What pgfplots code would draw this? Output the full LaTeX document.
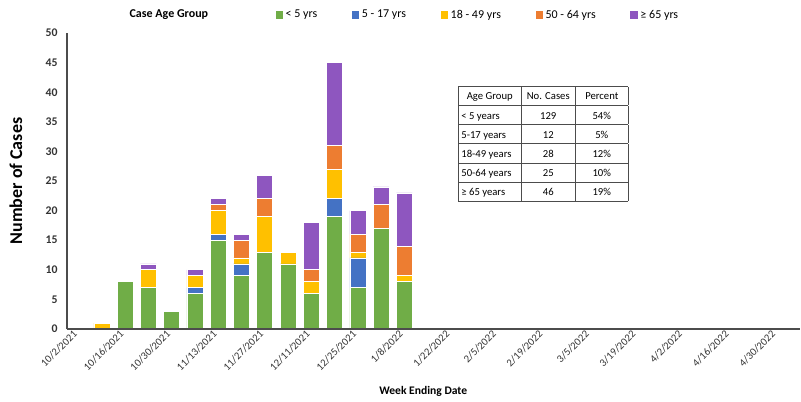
\documentclass[border=0pt]{standalone}
\usepackage{pgfplots}
\pgfplotsset{compat=1.18}
\usepackage{fontspec}
\setmainfont{Carlito}
\newfontfamily\dejavu{DejaVu Sans}
\usepackage{array}
\usepackage{colortbl}
\definecolor{cgreen}{HTML}{70AD47}
\definecolor{cblue}{HTML}{4472C4}
\definecolor{cyellow}{HTML}{FFC000}
\definecolor{corange}{HTML}{ED7D31}
\definecolor{cpurple}{HTML}{8E56BF}
\newcommand\gesym{\iffontchar\font"2265 \symbol{"2265}\else{\dejavu\symbol{"2265}}\fi}
\begin{document}
\begin{tikzpicture}
\useasboundingbox (0,0) rectangle (600.75pt,300.75pt);
\begin{axis}[
  at={(50.25pt,54pt)}, anchor=south west,
  scale only axis, width=549.75pt, height=222pt,
  ybar stacked, bar width=0.69,
  xmin=-0.5, xmax=31, ymin=0, ymax=50,
  clip=false, axis on top,
  axis x line*=bottom, axis y line*=left,
  axis line style={black!70, line width=0.8pt, -},
  ytick={0,5,...,50}, xtick={0,2,...,30},
  xticklabels={10/2/2021,10/16/2021,10/30/2021,11/13/2021,11/27/2021,12/11/2021,12/25/2021,1/8/2022,1/22/2022,2/5/2022,2/19/2022,3/5/2022,3/19/2022,4/2/2022,4/16/2022,4/30/2022},
  major tick length=0pt,
  /pgf/number format/assume math mode=true,
  x tick label style={rotate=45, anchor=east, font=\fontsize{8}{9.6}\selectfont, text=black!80},
  y tick label style={font=\bfseries\fontsize{8.8}{10}\selectfont, text=black!80, xshift=-3.5pt},
  xlabel={Week Ending Date},
  xlabel style={at={(axis description cs:0.486,0)}, anchor=center, yshift=-47pt, font=\bfseries\fontsize{8.7}{10}\selectfont},
  ylabel={Number of Cases},
  ylabel style={at={(axis description cs:-0.0696,0.5)}, anchor=center, rotate=0, font=\bfseries\fontsize{13.5}{16}\selectfont},
  every axis plot/.append style={draw=white, line width=0.5pt},
  legend style={at={(0.561,1.061)}, anchor=center, legend columns=5, draw=none, fill=none,
    font=\fontsize{9}{11}\selectfont, inner sep=0pt,
    /tikz/every even column/.append style={column sep=24pt}},
  legend cell align=left,
  legend image code/.code={\fill[#1, draw=none] (0pt,-2.7pt) rectangle (5.5pt,2.8pt);},
]
\addplot[fill=cgreen] coordinates {(0,0) (1,0) (2,8) (3,7) (4,3) (5,6) (6,15) (7,9) (8,13) (9,11) (10,6) (11,19) (12,7) (13,17) (14,8)};
\addplot[fill=cblue] coordinates {(0,0) (1,0) (2,0) (3,0) (4,0) (5,1) (6,1) (7,2) (8,0) (9,0) (10,0) (11,3) (12,5) (13,0) (14,0)};
\addplot[fill=cyellow] coordinates {(0,0) (1,1) (2,0) (3,3) (4,0) (5,2) (6,4) (7,1) (8,6) (9,2) (10,2) (11,5) (12,1) (13,0) (14,1)};
\addplot[fill=corange] coordinates {(0,0) (1,0) (2,0) (3,0) (4,0) (5,0) (6,1) (7,3) (8,3) (9,0) (10,2) (11,4) (12,3) (13,4) (14,5)};
\addplot[fill=cpurple] coordinates {(0,0) (1,0) (2,0) (3,1) (4,0) (5,1) (6,1) (7,1) (8,4) (9,0) (10,8) (11,14) (12,4) (13,3) (14,9)};
\legend{< 5 yrs, 5 - 17 yrs, 18 - 49 yrs, 50 - 64 yrs, \gesym{} 65 yrs}
\node[font=\bfseries\fontsize{9}{11}\selectfont] at (rel axis cs:0.139,1.061) {Case Age Group};
\node[anchor=north west, inner sep=0pt] at (axis cs:16.3,41.05) {%
  \fontsize{8}{9.6}\selectfont
  \setlength{\tabcolsep}{2pt}\arrayrulecolor{black!70}%
  \begin{tabular}{|>{\raggedright\arraybackslash}p{42.5pt}|>{\centering\arraybackslash}p{36.5pt}|>{\centering\arraybackslash}p{35pt}|}
  \hline
  \rule[-4pt]{0pt}{13.9pt}\centering Age Group & No. Cases & Percent\\ \hline
  \rule[-4pt]{0pt}{13.9pt}< 5 years & 129 & 54\%\\ \hline
  \rule[-4pt]{0pt}{13.9pt}5-17 years & 12 & 5\%\\ \hline
  \rule[-4pt]{0pt}{13.9pt}18-49 years & 28 & 12\%\\ \hline
  \rule[-4pt]{0pt}{13.9pt}50-64 years & 25 & 10\%\\ \hline
  \rule[-4pt]{0pt}{13.9pt}\gesym{} 65 years & 46 & 19\%\\ \hline
  \end{tabular}};
\end{axis}
\end{tikzpicture}
\end{document}
